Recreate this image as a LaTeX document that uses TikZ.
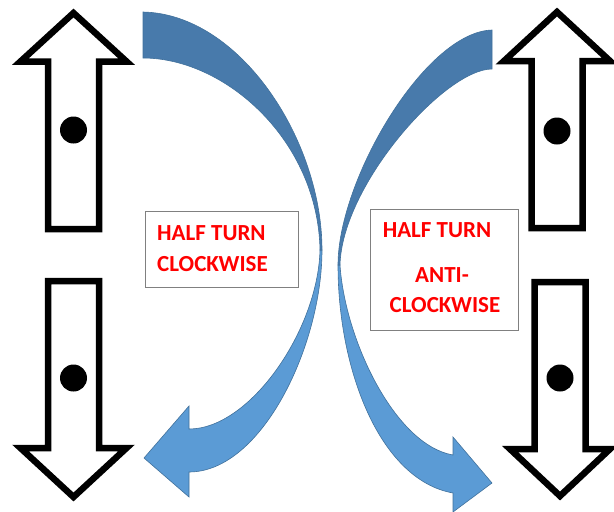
\documentclass[tikz,border=0pt]{standalone}
\usepackage{fontspec}
\setmainfont{Carlito}
\usepackage{xcolor}
\usepackage{tikz}
\usetikzlibrary{positioning}

\definecolor{backblue}{RGB}{72,122,171}
\definecolor{frontblue}{RGB}{91,155,213}
\definecolor{edgeblue}{RGB}{65,113,156}
\definecolor{boxgray}{RGB}{128,128,128}

\begin{document}
\begin{tikzpicture}[x=1pt,y=-1pt,
        blockarrow/.style={draw=black,fill=white,line width=6.5pt,miter limit=10},
        turnbox/.style={draw=boxgray,line width=0.9pt,fill=white,inner sep=0},
        turntext/.style={text=red,font=\bfseries\fontsize{23}{28}\selectfont,inner sep=0},
        backband/.style={fill=backblue,draw=edgeblue,line width=0.6pt},
        frontband/.style={fill=frontblue,draw=edgeblue,line width=0.6pt}]
        \useasboundingbox (0,0) rectangle (614,512);

        % black block arrows with their dots
        \foreach \cx/\tipy/\basey/\endy/\doty/\hw in {73.5/13/61.5/229/130/53,73.5/497/448/281/378/53,557/12/61/228/131/53,560/496/449/282/378/50}
        {
            \draw[blockarrow] (\cx,\tipy) -- (\cx+\hw,\basey) -- (\cx+25.5,\basey) -- (\cx+25.5,\endy)
                -- (\cx-25.5,\endy) -- (\cx-25.5,\basey) -- (\cx-\hw,\basey) -- cycle;
            \fill[black] (\cx,\doty) circle [radius=13.5pt];
        }

        % clockwise half turn
        \draw[frontband] (322,250) .. controls (322,345) and (262,472) .. (189,472) -- (189,497) -- (144,458)
            -- (189,406) -- (189,429) .. controls (250,429) and (318,330) .. (320,250) -- cycle;
        \draw[backband] (143,12) .. controls (240,14) and (322,140) .. (322,250)
            -- (320,250) .. controls (318,140) and (225,58) .. (143,58) -- cycle;

        % anti-clockwise half turn
        \draw[frontband] (338,265) .. controls (338,370) and (380,480) .. (453,493) -- (453,512) -- (492,483)
            -- (453,437) -- (453,455) .. controls (395,445) and (345,340) .. (340,265) -- cycle;
        \draw[backband] (492,30) .. controls (425,32) and (338,180) .. (338,265)
            -- (340,265) .. controls (342,185) and (445,69) .. (492,69) -- cycle;

        % labels
        \node[turnbox,minimum width=153pt,minimum height=76pt] (cwbox) at (221.5,249) {};
        \node[turntext,anchor=base west] (cw1) at (157,240) {HALF TURN};
        \node[turntext,anchor=base west] (cw2) at ([yshift=-31pt]cw1.base west) {CLOCKWISE};

        \node[turnbox,minimum width=148pt,minimum height=121pt] (acwbox) at (444,269.5) {};
        \node[turntext,anchor=base] (acw1) at (437,237) {HALF TURN};
        \node[turntext,anchor=base] (acw2) at (442,282) {ANTI-};
        \node[turntext,anchor=base] (acw3) at (445,312) {CLOCKWISE};
    \end{tikzpicture}
\end{document}
